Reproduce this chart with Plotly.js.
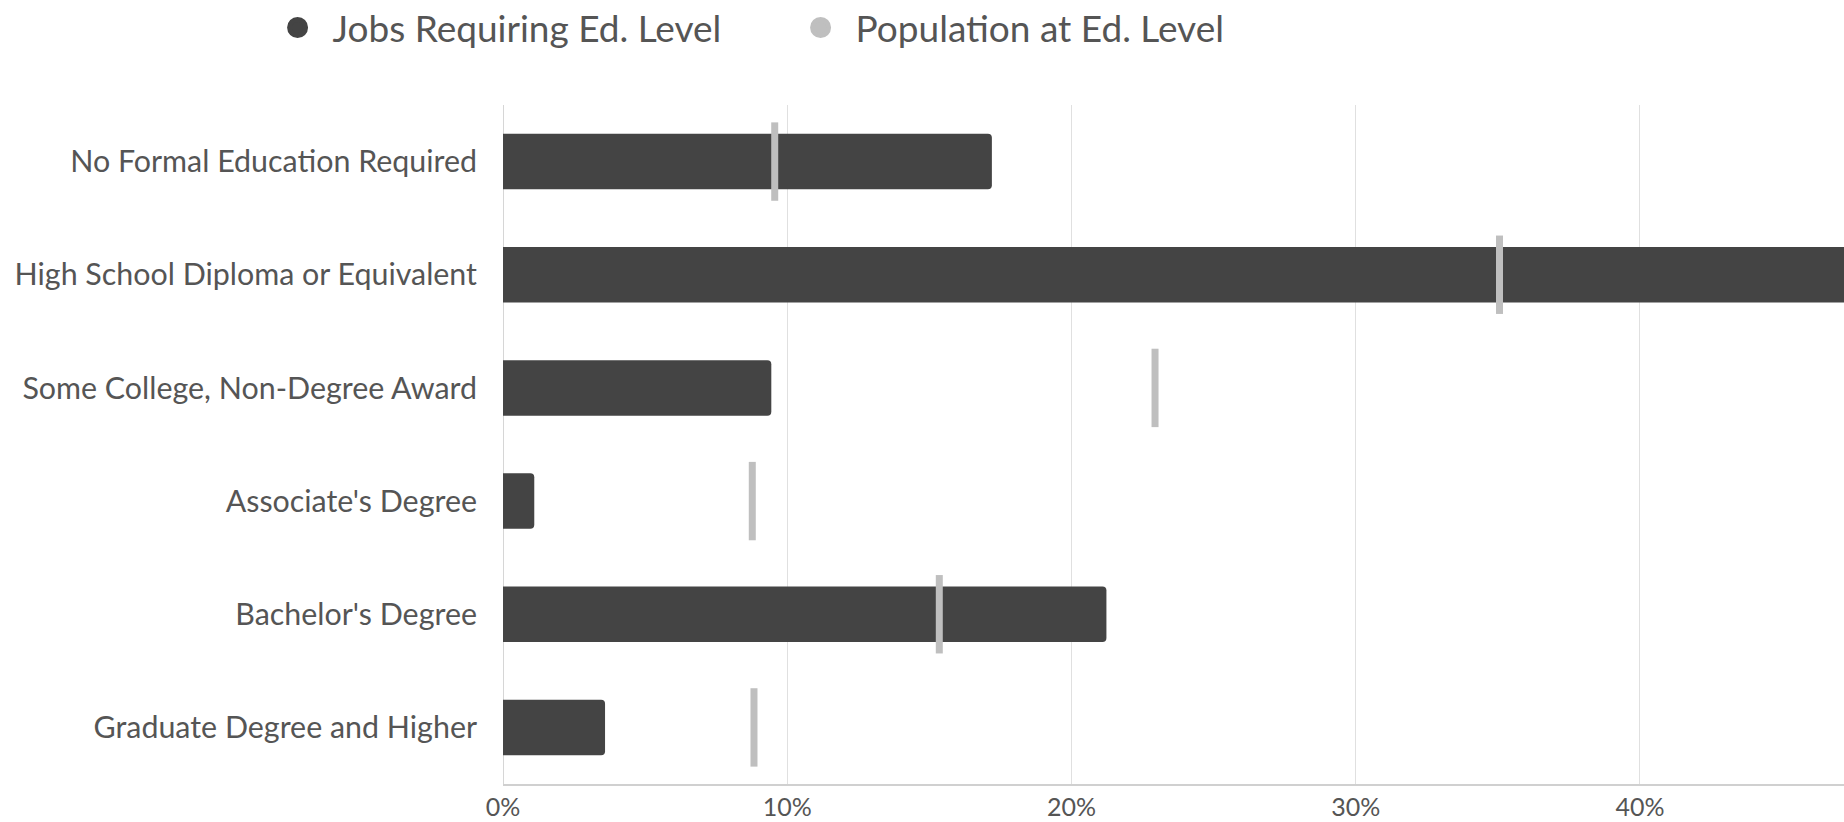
<!DOCTYPE html>
<html>
<head>
<meta charset="utf-8">
<script src="https://cdn.plot.ly/plotly-3.0.1.min.js"></script>
<style>
  html, body { margin: 0; padding: 0; background: #ffffff; }
  #chart { width: 1844px; height: 822px; }
</style>
</head>
<body>
<div id="chart"></div>
<script>
// ---- Data (percent of total) ----
const categories = [
  "No Formal Education Required",
  "High School Diploma or Equivalent",
  "Some College, Non-Degree Award",
  "Associate's Degree",
  "Bachelor's Degree",
  "Graduate Degree and Higher"
];
const jobsRequiring = [17.2, 48.0, 9.44, 1.10, 21.23, 3.59];
const populationAt = [9.56, 35.06, 22.94, 8.77, 15.35, 8.83];
const seriesNames = ["Jobs Requiring Ed. Level", "Population at Ed. Level"];
const tickValues = [0, 10, 20, 30, 40];
const tickLabels = ["0%", "10%", "20%", "30%", "40%"];

const darkColor = "#444444";
const lightColor = "#bfbfbf";
const textColor = "#555555";

const traces = [
  {
    type: "bar",
    orientation: "h",
    y: categories,
    x: jobsRequiring,
    width: 0.49,
    marker: { color: darkColor, cornerradius: 4 },
    showlegend: false,
    name: seriesNames[0]
  },
  {
    type: "scatter",
    mode: "markers",
    y: categories,
    x: populationAt,
    marker: {
      symbol: "line-ns",
      size: 56,
      color: lightColor,
      line: { color: lightColor, width: 7 }
    },
    showlegend: false,
    name: seriesNames[1]
  },
  // legend entries (circle symbols)
  {
    type: "scatter", mode: "markers", x: [null], y: [null],
    name: seriesNames[0],
    marker: { symbol: "circle", size: 16, color: darkColor, line: { color: darkColor, width: 5 } }
  },
  {
    type: "scatter", mode: "markers", x: [null], y: [null],
    name: seriesNames[1],
    marker: { symbol: "circle", size: 16, color: lightColor, line: { color: lightColor, width: 5 } }
  }
];

const layout = {
  width: 1844,
  height: 822,
  margin: { l: 503, r: 0, t: 105, b: 38, pad: 0, autoexpand: false },
  paper_bgcolor: "#ffffff",
  plot_bgcolor: "#ffffff",
  font: { family: "Lato, 'Open Sans', sans-serif", color: textColor },
  barmode: "overlay",
  showlegend: true,
  legend: {
    orientation: "h",
    xref: "container",
    yref: "container",
    x: 0.1424,
    xanchor: "left",
    y: 0.966,
    yanchor: "middle",
    font: { family: "Lato", size: 37, color: textColor },
    itemwidth: 60,
    entrywidth: 448,
    bgcolor: "rgba(0,0,0,0)"
  },
  xaxis: {
    range: [0, 47.18],
    tickvals: tickValues,
    ticktext: tickLabels,
    automargin: false,
    showgrid: true,
    gridcolor: "#e0e0e0",
    gridwidth: 1,
    zeroline: true,
    zerolinecolor: "#d6d6d6",
    zerolinewidth: 1,
    showline: true,
    linecolor: "#d0d0d0",
    linewidth: 2,
    ticks: "",
    tickfont: { family: "Lato", size: 25, color: textColor },
    fixedrange: true
  },
  yaxis: {
    type: "category",
    categoryorder: "array",
    categoryarray: categories,
    range: [5.5, -0.5],
    automargin: false,
    showgrid: false,
    zeroline: false,
    showline: false,
    ticks: "",
    ticklabelstandoff: 25,
    tickfont: { family: "Lato", size: 30.4, color: textColor },
    fixedrange: true
  }
};

Plotly.newPlot("chart", traces, layout, { displayModeBar: false, staticPlot: true });
</script>
</body>
</html>
